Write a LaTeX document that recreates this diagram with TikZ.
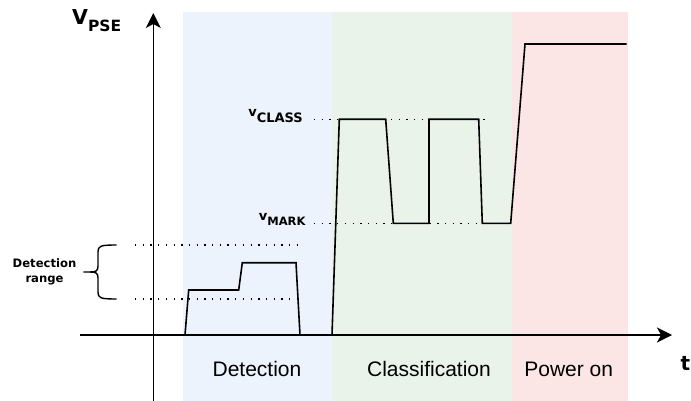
\documentclass[tikz,border=0pt]{standalone}
\usepackage{fontspec}
\setmainfont{Liberation Sans}
\newfontfamily\dejavu{DejaVu Sans}
\usetikzlibrary{arrows.meta}
\definecolor{detfill}{RGB}{236,243,253}
\definecolor{clsfill}{RGB}{234,243,233}
\definecolor{pwrfill}{RGB}{251,230,229}
\begin{document}
\begin{tikzpicture}[x=1pt,y=-1pt,
  axis/.style={line width=1.4pt,-{Stealth[length=15pt,width=15pt,inset=4pt]}},
  wave/.style={line width=1.6pt,line join=miter},
  guide/.style={line width=1.3pt,dash pattern=on 1.3pt off 6.4pt},
  phase/.style={font=\fontsize{21}{25}\selectfont,anchor=base,inner sep=0pt},
  lvl/.style={font=\dejavu\bfseries,anchor=base east,inner sep=0pt}]
\useasboundingbox (0,0) rectangle (691,401);

% phase bands
\fill[detfill] (182.5,12.5) rectangle (332,401);
\fill[clsfill] (332,12.5) rectangle (511.5,401);
\fill[pwrfill] (511.5,12.5) rectangle (627.7,401);

% axes
\coordinate (yfoot) at (153.3,401);
\coordinate (ytip) at (153.3,13);
\coordinate (xfoot) at (80,335);
\coordinate (xtip) at (672,335);
\draw[axis] (yfoot) -- (ytip);
\draw[axis] (xfoot) -- (xtip);

% level guides
\draw[guide] (135,245) -- (301.7,245);
\draw[guide] (135,299) -- (301.7,299);
\draw[guide] (314,119.3) -- (488,119.3);
\draw[guide] (314,223.3) -- (488,223.3);

% detection brace
\draw[line width=1.4pt]
  (116.7,245) .. controls (100,245) and (98,246) .. (98,252) -- (98,266)
  .. controls (98,271) and (96,272) .. (90,272) -- (83.3,272);
\draw[line width=1.4pt]
  (90,272) .. controls (96,272) and (98,273) .. (98,278) -- (98,292)
  .. controls (98,298) and (100,299) .. (116.7,299);

% supply voltage waveform
\draw[wave] (185,335) -- (188.7,290) -- (238.7,290) -- (242.3,262.7)
  -- (296,262.7) -- (300,335);
\draw[wave] (332,335) -- (339.3,119.3) -- (385.7,119.3) -- (393.3,223.3)
  -- (429,223.3) -- (429,119.3) -- (478.7,119.3) -- (482.3,223.3)
  -- (510.7,223.3) -- (525,44) -- (626.7,44);

% labels
\node[anchor=base west,inner sep=0pt] (vpse) at (72,25)
  {\dejavu\bfseries\fontsize{20.5}{24}\selectfont V\raisebox{-6.7pt}{\fontsize{15.5}{18}\selectfont PSE}};
\node[anchor=base east,inner sep=0pt] (tlab) at (690.5,370)
  {\dejavu\bfseries\fontsize{20}{24}\selectfont t};
\node[lvl] (vclass) at (303,116.7)
  {\fontsize{13}{15}\selectfont v\raisebox{-6pt}{CLASS}};
\node[lvl] (vmark) at (305.7,220)
  {\fontsize{13}{15}\selectfont v\raisebox{-5pt}{\fontsize{11.5}{13}\selectfont MARK}};
\node[align=center,inner sep=0pt,font=\dejavu\bfseries\fontsize{11.6}{15.6}\selectfont]
  (drange) at (44.5,272) {Detection\\range};

\node[phase] (pdet) at (257,376.7) {Detection};
\node[phase] (pcls) at (429,376.7) {Classification};
\node[phase] (ppwr) at (568.7,376.7) {Power on};
\end{tikzpicture}
\end{document}
